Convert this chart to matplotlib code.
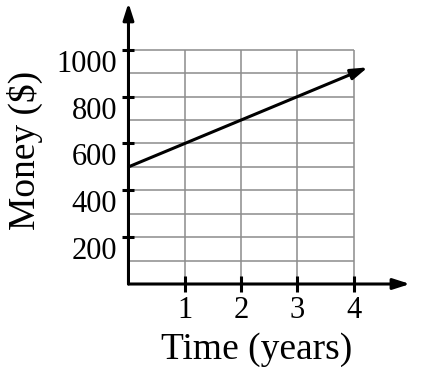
import numpy as np
import matplotlib.pyplot as plt

# Daten: Geld über Zeit (lineare Funktion, 500 + 100 pro Jahr)
time_years = [0, 4.25]
money = [500, 925]

x_ticks = [1, 2, 3, 4]
y_ticks = [200, 400, 600, 800, 1000]
y_tick_labels = ['200', '400', '600', '800', '1000']

plt.rcParams['font.family'] = ['Liberation Serif', 'DejaVu Serif']

fig = plt.figure(figsize=(4.24, 3.84), dpi=100)
ax = fig.add_axes([0.303, 0.2604, 0.664, 0.732])
ax.set_xlim(0, 5)
ax.set_ylim(0, 1200)

for s in ax.spines.values():
    s.set_visible(False)

# Gitter nur im Bereich 0..4 / 0..1000
grid_c = '#8c8c8c'
ax.vlines(np.arange(1, 5), 0, 1000, color=grid_c, lw=1.1, zorder=1)
ax.hlines(np.arange(100, 1001, 100), 0, 4, color=grid_c, lw=1.1, zorder=1)

# Achsen mit Pfeilen
arrow_kw = dict(arrowstyle='-|>,head_length=1.0,head_width=0.32', color='black', lw=2.2,
                shrinkA=0, shrinkB=0)
ax.annotate('', xy=(5, 0), xytext=(0, 0), arrowprops=arrow_kw, annotation_clip=False, zorder=4)
ax.annotate('', xy=(0, 1200), xytext=(0, 0), arrowprops=arrow_kw, annotation_clip=False, zorder=4)

# Datenlinie mit Pfeilspitze
ax.annotate('', xy=(time_years[1], money[1]), xytext=(time_years[0], money[0]),
            arrowprops=dict(arrowstyle='-|>,head_length=1.0,head_width=0.32', color='black',
                            lw=2.2, shrinkA=0, shrinkB=0),
            annotation_clip=False, zorder=5)

ax.set_xticks(x_ticks)
ax.set_xticklabels([str(v) for v in x_ticks])
ax.set_yticks(y_ticks)
ax.set_yticklabels(y_tick_labels)
ax.tick_params(axis='x', direction='inout', length=11, width=2.2, labelsize=22, pad=3)
ax.tick_params(axis='y', direction='inout', length=8, width=2.2, labelsize=22, pad=4)
for lbl in ax.get_yticklabels():
    lbl.set_va('top')

fig.text(25 / 424, 1 - 150 / 384, 'Money ($)', rotation=90, ha='center', va='center', fontsize=27)
fig.text(257 / 424, 1 - 350 / 384, 'Time (years)', ha='center', va='center', fontsize=27)

plt.savefig('out.png', dpi=100)
